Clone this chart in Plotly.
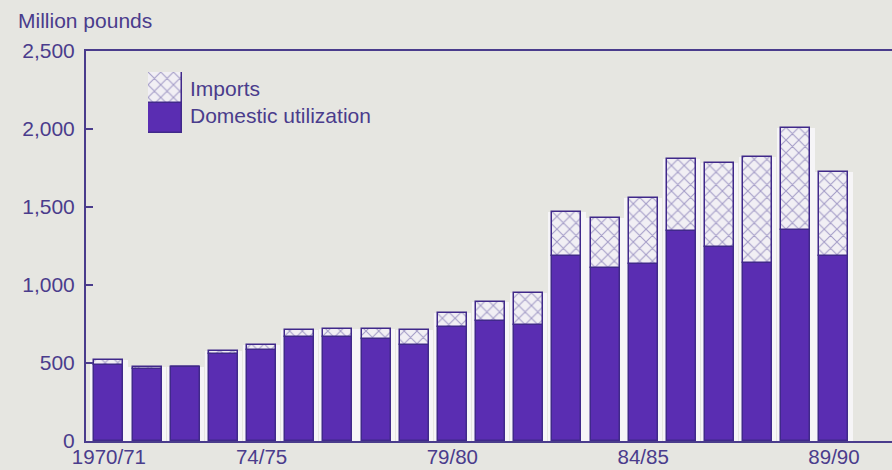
import plotly.graph_objects as go

# Marketing years
seasons = ["1970/71", "71/72", "72/73", "73/74", "74/75", "75/76", "76/77",
           "77/78", "78/79", "79/80", "80/81", "81/82", "82/83", "83/84",
           "84/85", "85/86", "86/87", "87/88", "88/89", "89/90"]
# Million pounds
domestic = [487, 462, 475, 555, 585, 665, 665, 655, 615, 730,
            770, 745, 1185, 1110, 1135, 1345, 1245, 1140, 1350, 1185]
imports = [35, 14, 0, 25, 30, 45, 50, 60, 95, 90,
           120, 205, 280, 320, 425, 465, 540, 680, 655, 540]
tick_labels = ["1970/71", "74/75", "79/80", "84/85", "89/90"]
y_ticks = [0, 500, 1000, 1500, 2000, 2500]

totals = [d + i for d, i in zip(domestic, imports)]

BG = "#e6e6e1"
PURPLE = "#5a2db2"
EDGE = "#40298a"
INK = "#4a3c8c"
HATCH_BG = "#f1eff4"
HATCH_FG = "#55489a"
FONT = "Liberation Sans, Arial, sans-serif"
FS = 21

hatch = dict(shape="x", fgcolor=HATCH_FG, bgcolor=HATCH_BG, size=9, solidity=0.22)

fig = go.Figure()

# light halo behind each column
fig.add_trace(go.Bar(
    x=seasons, y=totals, width=0.98,
    marker=dict(color="#f6f5f7", line=dict(width=0)),
    showlegend=False, hoverinfo="skip"))

fig.add_trace(go.Bar(
    x=seasons, y=domestic, base=0, width=0.76, name="Domestic utilization",
    marker=dict(color=PURPLE, line=dict(color=EDGE, width=1.5)),
    showlegend=False))

fig.add_trace(go.Bar(
    x=seasons, y=imports, base=domestic, width=0.76, name="Imports",
    marker=dict(color=HATCH_BG, line=dict(color=EDGE, width=1.5), pattern=hatch),
    showlegend=False))

# legend key drawn on a small inset axis
fig.add_trace(go.Bar(
    x=[0], y=[1], base=[0], width=1, xaxis="x2", yaxis="y2",
    marker=dict(color=PURPLE, line=dict(color=EDGE, width=1.5)),
    showlegend=False, hoverinfo="skip"))
fig.add_trace(go.Bar(
    x=[0], y=[1], base=[1], width=1, xaxis="x2", yaxis="y2",
    marker=dict(color=HATCH_BG, line=dict(color=EDGE, width=1.5), pattern=hatch),
    showlegend=False, hoverinfo="skip"))

plot_w = 892 - 86
plot_h = 470 - 51 - 29

def px_x(p):
    return (p - 86) / plot_w

def px_y(p):
    return (441 - p) / plot_h

fig.update_layout(
    width=892, height=470,
    margin=dict(l=86, r=0, t=51, b=29),
    paper_bgcolor=BG, plot_bgcolor=BG,
    barmode="overlay", bargap=0,
    font=dict(family=FONT, size=FS, color=INK),
    xaxis=dict(
        type="category", range=[-0.6, 20.52], automargin=False,
        tickmode="array", tickvals=tick_labels, ticktext=tick_labels,
        showline=True, linecolor=INK, linewidth=2, mirror=True,
        ticks="", showgrid=False, zeroline=False, ticklabelstandoff=-4,
        tickfont=dict(size=20.5, color=INK),
    ),
    yaxis=dict(
        range=[0, 2500], tickvals=y_ticks, tickformat=",d", automargin=False,
        showline=True, linecolor=INK, linewidth=2,
        ticks="inside", ticklen=7, tickwidth=2, tickcolor=INK,
        showgrid=False, zeroline=False, ticklabelstandoff=5,
        tickfont=dict(size=FS, color=INK),
    ),
    xaxis2=dict(domain=[px_x(148), px_x(182)], range=[-0.5, 0.5],
                anchor="y2", visible=False, fixedrange=True),
    yaxis2=dict(domain=[px_y(133), px_y(72)], range=[0, 2],
                anchor="x2", visible=False, fixedrange=True),
    annotations=[
        dict(text="Million pounds", xref="paper", yref="paper",
             x=px_x(16), y=px_y(20), xanchor="left", yanchor="middle",
             showarrow=False, font=dict(size=FS, color=INK)),
        dict(text="Imports", xref="paper", yref="paper",
             x=px_x(188), y=px_y(88), xanchor="left", yanchor="middle",
             showarrow=False, font=dict(size=FS, color=INK)),
        dict(text="Domestic utilization", xref="paper", yref="paper",
             x=px_x(188), y=px_y(116), xanchor="left", yanchor="middle",
             showarrow=False, font=dict(size=FS, color=INK)),
    ],
)

fig.write_html("out.html")
